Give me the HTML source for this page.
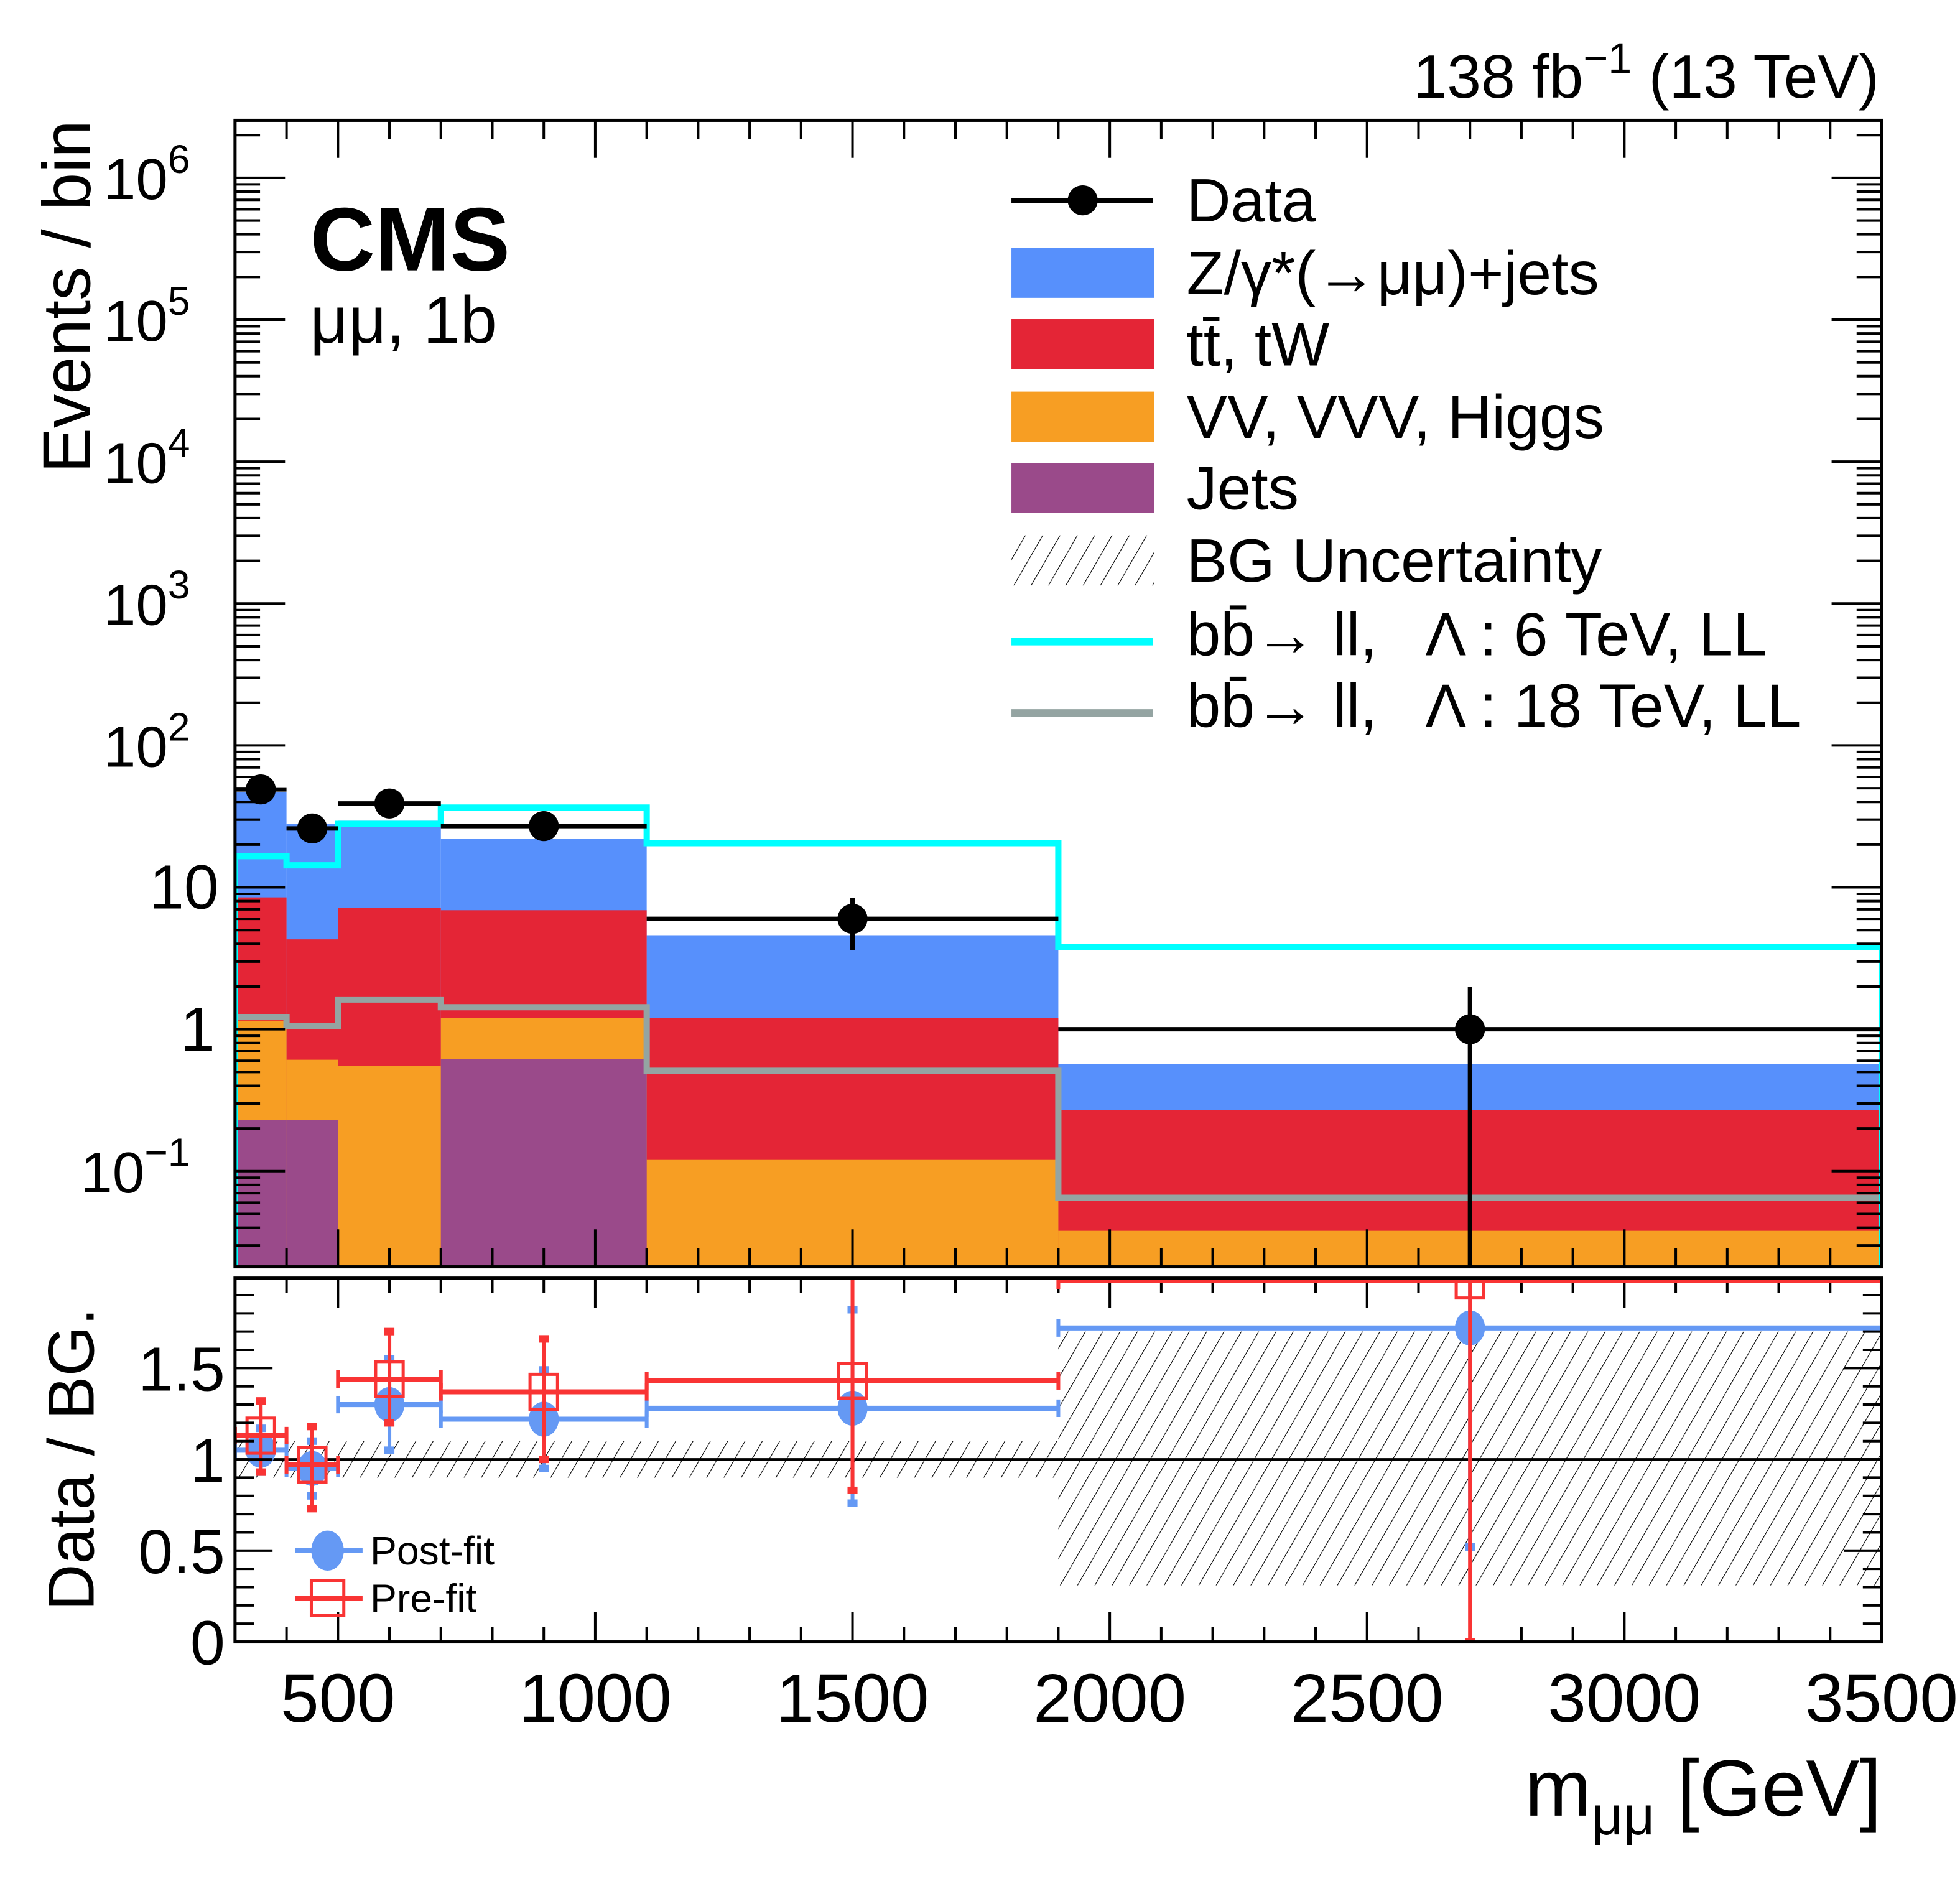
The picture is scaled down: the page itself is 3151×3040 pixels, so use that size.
<!DOCTYPE html>
<html><head><meta charset="utf-8"><style>
html,body{margin:0;padding:0;background:#fff;}
svg{display:block;}
text{font-family:"Liberation Sans",sans-serif;fill:#000;}
</style></head><body>
<svg id="chart" width="3151" height="3040" viewBox="0 0 1567.7 1512" xmlns="http://www.w3.org/2000/svg">
<defs>
<pattern id="hatch" patternUnits="userSpaceOnUse" width="12" height="12" patternTransform="rotate(30)">
<line x1="0" y1="0" x2="0" y2="12" stroke="#000" stroke-width="1.1"/>
</pattern>
<clipPath id="mainclip"><rect x="188" y="96" width="1317" height="917"/></clipPath>
<clipPath id="ratioclip"><rect x="188" y="1022" width="1317" height="291"/></clipPath>
</defs>
<g id="main"></g>
<g id="ratio"></g>
<g id="labels">
<text x="1503" y="78" text-anchor="end" font-size="49">138 fb<tspan dy="-20" font-size="34">−1</tspan><tspan dy="20"> (13 TeV)</tspan></text>
<text x="248" y="216" font-size="72" font-weight="bold">CMS</text>
<text x="248" y="274" font-size="53">μμ, 1b</text>
<text transform="translate(72,237) rotate(-90)" text-anchor="middle" font-size="54">Events / bin</text>
<text transform="translate(75,1167) rotate(-90)" text-anchor="middle" font-size="52">Data / BG.</text>
<text x="1505" y="1452" text-anchor="end" font-size="64">m<tspan dy="15" font-size="44">μμ</tspan><tspan dy="-15"> [GeV]</tspan></text>
</g>
<g id="legend"></g>
</svg>
<script>
const NS="http://www.w3.org/2000/svg";
const binEdges=[300,400,500,700,1100,1900,3500];
const dyJets=[47,28,29.5,22,4.6,0.57];
const ttbar=[8.5,4.3,7.2,6.9,1.2,0.27];
const vv=[1.15,0.61,0.55,1.2,0.12,0.038];
const jets=[0.23,0.23,0,0.62,0,0];
const dataVals=[49,26,39,27,6.0,1.0];
const dataErrUp=[7,5,6,5,2.4,1.0];
const dataErrDown=[7,5,6,5,2.4,1.0];
const sig6=[16.6,14.3,28,36.5,20.5,3.8];
const sig18=[1.22,1.05,1.62,1.43,0.51,0.065];
const postFit=[1.05,0.95,1.30,1.22,1.28,1.72];
const postUp=[0.12,0.15,0.25,0.27,0.54,1.2];
const postDown=[0.12,0.15,0.25,0.27,0.52,1.2];
const preFit=[1.13,0.97,1.44,1.37,1.43,1.98];
const preUp=[0.19,0.21,0.26,0.29,0.7,0.1];
const preDown=[0.20,0.24,0.24,0.37,0.6,1.98];
const uncLow=[0.9,0.9,0.9,0.9,0.9,0.31];
const uncHigh=[1.1,1.1,1.1,1.1,1.1,1.7];
const xTicks=[500,1000,1500,2000,2500,3000,3500];
const yTickExp=[-1,0,1,2,3,4,5,6];
const ratioTicks=[0,0.5,1,1.5];

const X0=188,X1=1505;
function xs(v){return X0+(v-300)/(3200)*(X1-X0);}
function ys(v){return 823-Math.log10(Math.max(v,1e-6))*113.5;}
function yr(v){return 1313-v*146;}
const main=document.getElementById('main');
const ratio=document.getElementById('ratio');
const leg=document.getElementById('legend');
function el(tag,attrs,parent){const e=document.createElementNS(NS,tag);for(const k in attrs)e.setAttribute(k,attrs[k]);parent.appendChild(e);return e;}

const mg=el('g',{'clip-path':'url(#mainclip)'},main);
const colors=['#9a4a8a','#f79e23','#e42536','#5790fc'];
const comps=[jets,vv,ttbar,dyJets];
const compNames=['jets','vv-vvv-higgs','ttbar-tw','dy-jets'];
for(let c=3;c>=0;c--){
  for(let i=0;i<6;i++){
    const top=comps[c][i];
    if(top<=0) continue;
    const r=el('rect',{x:xs(binEdges[i]),width:xs(binEdges[i+1])-xs(binEdges[i]),y:ys(top),height:1013-ys(top),fill:colors[c]},mg);
    
    
  }
}
function stepPath(vals){
  let d='M'+xs(binEdges[0])+','+1013;
  for(let i=0;i<vals.length;i++){d+=' L'+xs(binEdges[i])+','+ys(vals[i])+' L'+xs(binEdges[i+1])+','+ys(vals[i]);}
  d+=' L'+xs(binEdges[vals.length])+','+1013;return d;
}
const s18=el('path',{d:stepPath(sig18),fill:'none',stroke:'#94a4a2','stroke-width':5},mg);


const s6=el('path',{d:stepPath(sig6),fill:'none',stroke:'#00ffff','stroke-width':5},mg);


for(let i=0;i<6;i++){
  const cx=xs((binEdges[i]+binEdges[i+1])/2),cy=ys(dataVals[i]);
  const g=el('g',{},mg);
  
  
  el('line',{x1:xs(binEdges[i]),x2:xs(binEdges[i+1]),y1:cy,y2:cy,stroke:'#000','stroke-width':3.5},g);
  el('line',{x1:cx,x2:cx,y1:ys(dataVals[i]+dataErrUp[i]),y2:ys(Math.max(dataVals[i]-dataErrDown[i],1e-4)),stroke:'#000','stroke-width':3.5},g);
  el('circle',{cx:cx,cy:cy,r:12,fill:'#000'},g);
}
const mf=el('rect',{x:188,y:96,width:1317,height:917,fill:'none',stroke:'#000','stroke-width':2.5},main);


for(let e=-2;e<=6;e++){
  for(let m=1;m<10;m++){
    const v=m*Math.pow(10,e);const y=ys(v);
    if(y<96||y>1013) continue;
    const L=m===1?40:20;
    el('line',{x1:188,x2:188+L,y1:y,y2:y,stroke:'#000','stroke-width':2},main);
    el('line',{x1:1505,x2:1505-L,y1:y,y2:y,stroke:'#000','stroke-width':2},main);
  }
}
yTickExp.forEach(e=>{
  const y=ys(Math.pow(10,e));
  const t=el('text',{x:152,y:y+17,'text-anchor':'end','font-size':46},main);
  
  
  if(e===0){t.textContent='1';t.setAttribute('x',172);t.setAttribute('font-size',50);}
  else if(e===1){t.textContent='10';t.setAttribute('x',175);t.setAttribute('font-size',50);}
  else{t.textContent='10';const s=el('tspan',{dy:-21,'font-size':32},t);s.textContent=e<0?'−1':String(e);}
});
for(let v=300;v<=3500;v+=100){
  const x=xs(v);const L=(v%500===0)?30:15;
  el('line',{x1:x,x2:x,y1:1013,y2:1013-L,stroke:'#000','stroke-width':2},main);
  el('line',{x1:x,x2:x,y1:96,y2:96+L,stroke:'#000','stroke-width':2},main);
  el('line',{x1:x,x2:x,y1:1313,y2:1313-L*0.8,stroke:'#000','stroke-width':2},ratio);
  el('line',{x1:x,x2:x,y1:1022,y2:1022+L*0.8,stroke:'#000','stroke-width':2},ratio);
}
xTicks.forEach(v=>{
  const t=el('text',{x:xs(v),y:1377,'text-anchor':'middle','font-size':55},ratio);
  
  
  t.textContent=String(v);
});

const rg=el('g',{'clip-path':'url(#ratioclip)'},ratio);
for(let i=0;i<6;i++){
  const r=el('rect',{x:xs(binEdges[i]),width:xs(binEdges[i+1])-xs(binEdges[i]),y:yr(uncHigh[i]),height:yr(uncLow[i])-yr(uncHigh[i]),fill:'url(#hatch)'},rg);
  
  
}
el('line',{x1:188,x2:1505,y1:yr(1),y2:yr(1),stroke:'#000','stroke-width':2},rg);
function ratioPoint(vals,up,down,color,name,square,i){
  const cx=xs((binEdges[i]+binEdges[i+1])/2),cy=yr(vals[i]);
  const g=el('g',{},rg);
  
  
  const x0=xs(binEdges[i]),x1=xs(binEdges[i+1]);
  el('line',{x1:x0,x2:x1,y1:cy,y2:cy,stroke:color,'stroke-width':4},g);
  el('line',{x1:x0,x2:x0,y1:cy-7,y2:cy+7,stroke:color,'stroke-width':3},g);
  el('line',{x1:x1,x2:x1,y1:cy-7,y2:cy+7,stroke:color,'stroke-width':3},g);
  const yu=yr(vals[i]+up[i]),yd=yr(vals[i]-down[i]);
  el('line',{x1:cx,x2:cx,y1:yu,y2:yd,stroke:color,'stroke-width':3},g);
  el('rect',{x:cx-4,y:yu-3,width:8,height:6,fill:color},g);
  el('rect',{x:cx-4,y:yd-3,width:8,height:6,fill:color},g);
  if(square) el('rect',{x:cx-11,y:cy-14,width:22,height:28,fill:'none',stroke:color,'stroke-width':2.5},g);
  else el('ellipse',{cx:cx,cy:cy,rx:12,ry:14,fill:color},g);
}
for(let i=0;i<6;i++) ratioPoint(postFit,postUp,postDown,'#6599f4','post-fit',false,i);
for(let i=0;i<6;i++) ratioPoint(preFit,preUp,preDown,'#f93434','pre-fit',true,i);
const rf=el('rect',{x:188,y:1022,width:1317,height:291,fill:'none',stroke:'#000','stroke-width':2.5},ratio);


for(let v=0;v<=2.0001;v+=0.1){
  const y=yr(v);if(y<1022) continue;
  const L=(Math.abs(v*2-Math.round(v*2))<1e-6)?30:15;
  el('line',{x1:188,x2:188+L,y1:y,y2:y,stroke:'#000','stroke-width':2},ratio);
  el('line',{x1:1505,x2:1505-L,y1:y,y2:y,stroke:'#000','stroke-width':2},ratio);
}
ratioTicks.forEach(v=>{
  const t=el('text',{x:180,y:yr(v)+18,'text-anchor':'end','font-size':50},ratio);
  
  
  t.textContent=String(v);
});
const pl=el('g',{},ratio);


el('line',{x1:236,x2:290,y1:1240,y2:1240,stroke:'#6599f4','stroke-width':4},pl);
el('ellipse',{cx:262,cy:1240,rx:13,ry:16,fill:'#6599f4'},pl);
el('text',{x:296,y:1251,'font-size':32},pl).textContent='Post-fit';
const prl=el('g',{},ratio);


el('line',{x1:236,x2:290,y1:1278,y2:1278,stroke:'#f93434','stroke-width':4},prl);
el('rect',{x:249,y:1264,width:26,height:28,fill:'none',stroke:'#f93434','stroke-width':2.5},prl);
el('text',{x:296,y:1289,'font-size':32},prl).textContent='Pre-fit';

const legItems=[
 {n:'legend-data',type:'data',label:'Data'},
 {n:'legend-dy-jets',type:'box',c:'#5790fc',label:'Z/γ*(→μμ)+jets'},
 {n:'legend-ttbar',type:'box',c:'#e42536',label:'tt̄, tW'},
 {n:'legend-vv',type:'box',c:'#f79e23',label:'VV, VVV, Higgs'},
 {n:'legend-jets',type:'box',c:'#9a4a8a',label:'Jets'},
 {n:'legend-bg-uncertainty',type:'hatch',label:'BG Uncertainty'},
 {n:'legend-signal-6tev',type:'line',c:'#00ffff',label:'bb̄→ ll,',lam:'Λ : 6 TeV, LL'},
 {n:'legend-signal-18tev',type:'line',c:'#94a4a2',label:'bb̄→ ll,',lam:'Λ : 18 TeV, LL'}
];
const legY=[160,218,275,333,390,448,507,564];
legItems.forEach((it,k)=>{
  const y=legY[k];
  const g=el('g',{},leg);
  
  
  if(it.type==='data'){el('line',{x1:809,x2:922,y1:y,y2:y,stroke:'#000','stroke-width':4},g);el('circle',{cx:866,cy:y,r:12,fill:'#000'},g);}
  else if(it.type==='box') el('rect',{x:809,y:y-20,width:114,height:40,fill:it.c},g);
  else if(it.type==='hatch') el('rect',{x:809,y:y-20,width:114,height:40,fill:'url(#hatch)'},g);
  else el('line',{x1:809,x2:922,y1:y+6,y2:y+6,stroke:it.c,'stroke-width':6},g);
  el('text',{x:949,y:y+17,'font-size':49},g).textContent=it.label;
  if(it.lam) el('text',{x:1140,y:y+17,'font-size':49},g).textContent=it.lam;
});
</script>
</body></html>
